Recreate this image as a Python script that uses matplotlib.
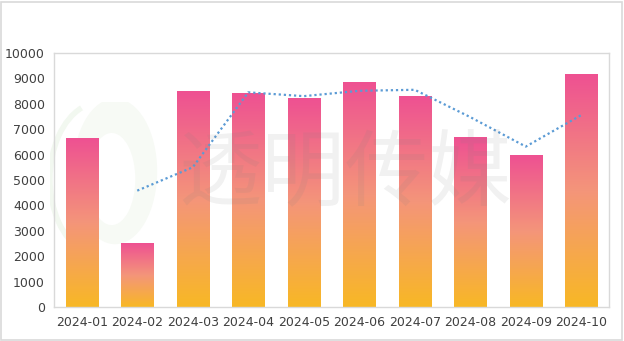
import numpy as np
import matplotlib.pyplot as plt
from matplotlib.colors import LinearSegmentedColormap
from matplotlib.patches import Ellipse, Arc

plt.rcParams['font.family'] = ['DejaVu Sans']

# 月份与数值
months = ['2024-01', '2024-02', '2024-03', '2024-04', '2024-05',
          '2024-06', '2024-07', '2024-08', '2024-09', '2024-10']
values = [6650, 2500, 8500, 8400, 8200, 8820, 8280, 6670, 5960, 9150]
# 两期移动平均（从第二个月开始）
trend = [4580, 5500, 8450, 8300, 8510, 8550, 7475, 6315, 7555]
yticks = [0, 1000, 2000, 3000, 4000, 5000, 6000, 7000, 8000, 9000, 10000]

fig = plt.figure(figsize=(6.24, 3.41), dpi=100)
ax = fig.add_axes([0.0865, 0.0997, 0.8895, 0.745])

# 整张图的灰色外框
fig.patches.append(plt.Rectangle((0.002, 0.003), 0.994, 0.992, transform=fig.transFigure,
                                 fill=False, edgecolor='#d9d9d9', linewidth=1.2))

# 水印 logo
logo = fig.add_axes([0.08, 0.25, 0.18, 0.45])
logo.set_xlim(0, 1)
logo.set_ylim(0, 1)
logo.axis('off')
logo.add_patch(Ellipse((0.58, 0.55), 0.75, 0.95, facecolor='#f7faf5', edgecolor='none'))
logo.add_patch(Ellipse((0.55, 0.5), 0.42, 0.6, facecolor='white', edgecolor='none'))
logo.add_patch(Arc((0.45, 0.5), 0.9, 1.0, theta1=110, theta2=250, color='#f2f8f0', linewidth=4))
logo.set_zorder(0)
ax.set_zorder(1)
ax.patch.set_alpha(0)

# 渐变色柱
cmap = LinearSegmentedColormap.from_list('bar', ['#f8b825', '#f4957a', '#ee5192'])
grad = np.linspace(0, 1, 256).reshape(-1, 1)
width = 0.58
x = np.arange(len(months))
for xi, v in zip(x, values):
    ax.imshow(grad, cmap=cmap, origin='lower', aspect='auto',
              extent=[xi - width / 2, xi + width / 2, 0, v], zorder=2)

# 趋势线
ax.plot(x[1:], trend, linestyle=(0, (1, 1.3)), color='#5b9bd5', linewidth=1.6, zorder=3)

# 水印文字
fig.text(0.553, 0.49, '透明传媒', fontsize=60, family=['Noto Sans CJK SC'], weight='light',
         color='#808080', alpha=0.11, ha='center', va='center', zorder=5)

ax.set_xlim(-0.5, len(months) - 0.5)
ax.set_ylim(0, 10000)
ax.set_xticks(x)
ax.set_xticklabels(months)
ax.set_yticks(yticks)
ax.tick_params(length=0, labelsize=9, colors='#404040', pad=6.5)
for s in ax.spines.values():
    s.set_color('#d9d9d9')
    s.set_linewidth(1)

fig.savefig('out.png', dpi=100)
